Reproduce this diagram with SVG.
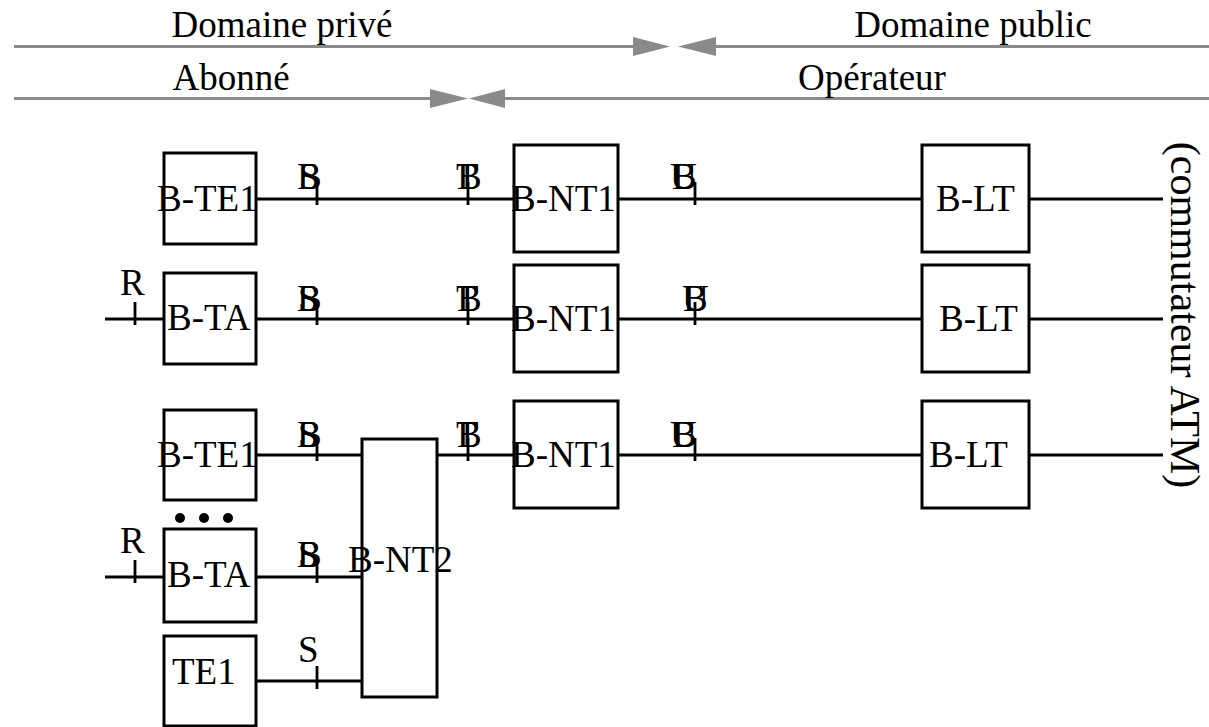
<svg xmlns="http://www.w3.org/2000/svg" width="1209" height="727" viewBox="0 0 1209 727">
<style>
text{font-family:"Liberation Serif","Times New Roman",serif;font-size:37px;fill:#000}
.box{fill:#fff;stroke:#000;stroke-width:3}
.ln{stroke:#000;stroke-width:2.8;fill:none}
.dom{stroke:#8a8a8a;stroke-width:3;fill:none}
.ah{fill:#8a8a8a}
</style>
<rect width="1209" height="727" fill="#fff"/>
<g id="domains">
<line class="dom" x1="14" y1="46.5" x2="634" y2="46.5"/>
<line class="dom" x1="715" y1="46.5" x2="1209" y2="46.5"/>
<polygon class="ah" points="633,37 670,46.5 633,56"/>
<polygon class="ah" points="716,37 678,46.5 716,56"/>
<line class="dom" x1="14" y1="98.5" x2="431" y2="98.5"/>
<line class="dom" x1="504" y1="98.5" x2="1209" y2="98.5"/>
<polygon class="ah" points="430,89 468,98.5 430,108"/>
<polygon class="ah" points="505,89 469,98.5 505,108"/>
<text x="282" y="37" text-anchor="middle">Domaine privé</text>
<text x="973" y="37" text-anchor="middle">Domaine public</text>
<text x="231" y="90" text-anchor="middle">Abonné</text>
<text x="872" y="90" text-anchor="middle">Opérateur</text>
</g>
<g id="connectors">
<line class="ln" x1="256" y1="199" x2="514" y2="199"/>
<line class="ln" x1="618" y1="199" x2="922" y2="199"/>
<line class="ln" x1="1029" y1="199" x2="1163" y2="199"/>
<line class="ln" x1="105" y1="319" x2="164" y2="319"/>
<line class="ln" x1="256" y1="319" x2="514" y2="319"/>
<line class="ln" x1="618" y1="319" x2="922" y2="319"/>
<line class="ln" x1="1029" y1="319" x2="1163" y2="319"/>
<line class="ln" x1="256" y1="455" x2="362" y2="455"/>
<line class="ln" x1="437" y1="455" x2="514" y2="455"/>
<line class="ln" x1="618" y1="455" x2="922" y2="455"/>
<line class="ln" x1="1029" y1="455" x2="1163" y2="455"/>
<line class="ln" x1="105" y1="577" x2="164" y2="577"/>
<line class="ln" x1="256" y1="577" x2="362" y2="577"/>
<line class="ln" x1="256" y1="681" x2="362" y2="681"/>
<path class="ln" d="M317 182V205M468 182V205M695 182V205M135 302V325M317 302V325M468 302V325M695 302V325M317 438V461M468 438V461M695 438V461M135 560V583M317 560V583M317 666V689"/>
</g>
<g id="labels">
<text x="299" y="189">S</text><text x="297" y="189">B</text>
<text x="456" y="189">T</text><text x="457" y="189">B</text>
<text x="670" y="189">U</text><text x="672" y="189">B</text>
<text x="120" y="295">R</text>
<text x="298" y="311">S</text><text x="297" y="311">B</text>
<text x="456" y="311">T</text><text x="457" y="311">B</text>
<text x="682" y="311">U</text><text x="683" y="311">B</text>
<text x="298" y="447">S</text><text x="297" y="447">B</text>
<text x="456" y="447">T</text><text x="457" y="447">B</text>
<text x="670" y="447">U</text><text x="672" y="447">B</text>
<text x="120" y="553">R</text>
<text x="298" y="567">S</text><text x="297" y="567">B</text>
<text x="298" y="662">S</text>
</g>
<g id="n-bte1-1"><rect class="box" x="164" y="153" width="92" height="91"/><text x="157" y="211">B-TE1</text></g>
<g id="n-bnt1-1"><rect class="box" x="514" y="145" width="104" height="107"/><text x="511" y="211">B-NT1</text></g>
<g id="n-blt-1"><rect class="box" x="922" y="145" width="107" height="107"/><text x="936" y="211">B-LT</text></g>
<g id="n-bta-2"><rect class="box" x="164" y="273" width="92" height="91"/><text x="167" y="330">B-TA</text></g>
<g id="n-bnt1-2"><rect class="box" x="514" y="265" width="104" height="107"/><text x="511" y="331">B-NT1</text></g>
<g id="n-blt-2"><rect class="box" x="922" y="265" width="107" height="107"/><text x="939" y="331">B-LT</text></g>
<g id="n-bte1-3"><rect class="box" x="164" y="410" width="92" height="90"/><text x="157" y="467">B-TE1</text></g>
<g id="n-bnt2"><rect class="box" x="362" y="439" width="75" height="258"/><text x="348" y="572">B-NT2</text></g>
<g id="n-bnt1-3"><rect class="box" x="514" y="401" width="104" height="107"/><text x="511" y="467">B-NT1</text></g>
<g id="n-blt-3"><rect class="box" x="922" y="401" width="107" height="107"/><text x="929" y="467">B-LT</text></g>
<g id="dots"><circle cx="180" cy="518" r="5"/><circle cx="204" cy="518" r="5"/><circle cx="228" cy="518" r="5"/></g>
<g id="n-bta-4"><rect class="box" x="164" y="529" width="92" height="93"/><text x="167" y="587">B-TA</text></g>
<g id="n-te1"><rect class="box" x="164" y="636" width="92" height="90"/><text x="172" y="684">TE1</text></g>
<g id="n-atm"><text transform="translate(1171,315) rotate(90)" text-anchor="middle" style="font-size:42px">(commutateur ATM)</text></g>
</svg>
